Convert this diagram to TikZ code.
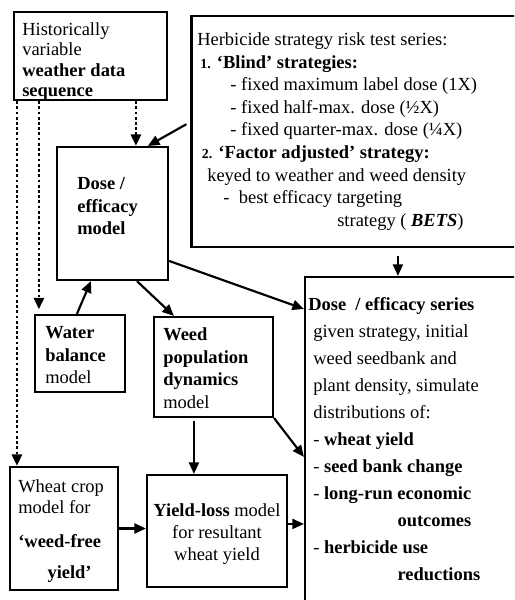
\documentclass[tikz,border=0pt]{standalone}
\usepackage{fontspec}
\setmainfont{Liberation Serif}
\usetikzlibrary{arrows.meta,calc,fit}

\tikzset{
  box/.style = {draw, line width=1.4pt, inner sep=0pt},
  txt/.style = {inner sep=0pt, anchor=north west, align=left, font=\fontsize{12}{#1}\selectfont},
  txt/.default = 14.6pt,
  arr/.style = {line width=1.4pt, -{Triangle[length=7.5pt,width=6.5pt]}},
  dotarr/.style = {arr, line width=1.8pt, dash pattern=on 1.8pt off 1.6pt},
}
\newcommand{\numlab}[1]{{\fontsize{9}{10}\selectfont\bfseries #1}}

\begin{document}
\begin{tikzpicture}[x=0.65pt, y=-0.65pt]
\useasboundingbox (0,0) rectangle (514,600);
\clip (0,0) rectangle (514,600);

% boxes
\node[box, fit={(14,12) (167,100)}] (weather) {};
\node[box, fit={(191.5,16) (540,247)}] (strategy) {};
\node[box, fit={(57,147) (168,280)}] (dose) {};
\node[box, fit={(305,277) (540,620)}] (results) {};
\node[box, fit={(35,315) (125,392)}] (water) {};
\node[box, fit={(154,317) (273,417)}] (weed) {};
\node[box, fit={(10,467) (118,590)}] (wheat) {};
\node[box, fit={(147,475) (287,587)}] (yield) {};

% texts
\node[txt=13.2pt] (weathertxt) at (22,22.4)
  {Historically\\variable\\\textbf{weather data}\\\textbf{sequence}};
\node[txt=14.7pt] (strategytxt) at (197,32.4)
  {Herbicide strategy risk test series:\\
   \hspace*{2pt}\numlab{1.} \textbf{‘Blind’ strategies:}\\
   \hspace*{21.5pt}- fixed maximum label dose (1X)\\
   \hspace*{21.5pt}- fixed half-max. dose (½X)\\
   \hspace*{21.5pt}- fixed quarter-max. dose (¼X)\\
   \hspace*{3pt}\numlab{2.} \textbf{‘Factor adjusted’ strategy:}\\
   \hspace*{6.5pt}keyed to weather and weed density\\
   \hspace*{17pt}-\ \ best efficacy targeting\\
   \hspace*{91pt}strategy ( \textbf{\textit{BETS}})};
\node[txt] (dosetxt) at (77,177.4)
  {\textbf{Dose /}\\\textbf{efficacy}\\\textbf{model}};
\node[txt] (watertxt) at (45,326.4)
  {\textbf{Water}\\\textbf{balance}\\model};
\node[txt=14.7pt] (weedtxt) at (163,327.4)
  {\textbf{Weed}\\\textbf{population}\\\textbf{dynamics}\\model};
\node[txt=13.65pt] (wheattxt) at (18,479.4)
  {Wheat crop\\model for\\[8.5pt]\textbf{‘weed-free}\\[6.5pt]\hspace*{19pt}\textbf{yield’}};
\node[txt=14.3pt, anchor=north, align=center] (yieldtxt) at (217,503.4)
  {\textbf{Yield-loss} model\\for resultant\\wheat yield};
\node[txt=17.55pt] (resultstxt) at (308,297.4)
  {\textbf{Dose\ \ / efficacy series}\\
   \hspace*{3.25pt}given strategy, initial\\
   \hspace*{3.25pt}weed seedbank and\\
   \hspace*{3.25pt}plant density, simulate\\
   \hspace*{3.25pt}distributions of:\\
   \hspace*{3.25pt}- \textbf{wheat yield}\\
   \hspace*{3.25pt}- \textbf{seed bank change}\\
   \hspace*{3.25pt}- \textbf{long-run economic}\\
   \hspace*{58pt}\textbf{outcomes}\\
   \hspace*{3.25pt}- \textbf{herbicide use}\\
   \hspace*{58pt}\textbf{reductions}};

% dotted weather links
\coordinate (wd) at ($(dose.north west)+(80,0)$);
\coordinate (wf) at ($(wheat.north west)+(8,0)$);
\coordinate (ww) at ($(water.north west)+(5,0)$);
\draw[dotarr] (weather.south -| wd) -- (wd);
\draw[dotarr] (weather.south -| wf) -- (wf);
\draw[dotarr, shorten >=3pt] (weather.south -| ww) -- (ww);

% solid links
\coordinate (sd) at ($(strategy.north west)+(0,107)$);
\coordinate (ds) at ($(dose.north west)+(92,0)$);
\draw[arr, shorten <=3pt] (sd) -- (ds);
\coordinate (sr) at ($(results.north west)+(94,0)$);
\draw[arr, shorten <=5pt] (strategy.south -| sr) -- (sr);
\coordinate (dr) at ($(dose.north east)+(0,115)$);
\coordinate (rd) at ($(results.north west)+(0,33)$);
\draw[arr] (dr) -- (rd);
\coordinate (wa) at ($(water.north west)+(43,0)$);
\coordinate (dw) at ($(dose.south west)+(35,0)$);
\draw[arr] (wa) -- (dw);
\coordinate (dwe) at ($(dose.south west)+(81,0)$);
\coordinate (wed) at ($(weed.north west)+(21,0)$);
\draw[arr] (dwe) -- (wed);
\coordinate (wy) at ($(yield.north west)+(48,0)$);
\draw[arr, shorten <=2pt] (weed.south -| wy) -- (wy);
\coordinate (rw) at ($(results.north west)+(0,181)$);
\draw[arr] (weed.south east) -- (rw);
\draw[arr] (wheat.east) -- (yield.west |- wheat.east);
\coordinate (yr) at ($(yield.north east)+(0,50)$);
\draw[arr] (yr) -- (results.west |- yr);
\end{tikzpicture}
\end{document}
